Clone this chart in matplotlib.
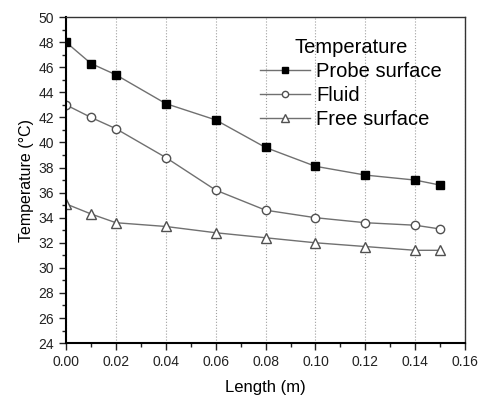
import matplotlib
matplotlib.use("Agg")
import matplotlib.pyplot as plt
from matplotlib.ticker import MultipleLocator, FormatStrFormatter

length_m = [0.00, 0.01, 0.02, 0.04, 0.06, 0.08, 0.10, 0.12, 0.14, 0.15]
probe_surface = [48.0, 46.3, 45.4, 43.1, 41.8, 39.6, 38.1, 37.4, 37.0, 36.6]
fluid = [43.0, 42.0, 41.1, 38.8, 36.2, 34.6, 34.0, 33.6, 33.4, 33.1]
free_surface = [35.1, 34.3, 33.6, 33.3, 32.8, 32.4, 32.0, 31.7, 31.4, 31.4]

plt.rcParams['font.family'] = ['Liberation Sans', 'DejaVu Sans']

fig = plt.figure(figsize=(4.82, 3.98), dpi=100)
ax = fig.add_axes([0.137, 0.138, 0.828, 0.819])

line_col = '#707070'
ax.plot(length_m, probe_surface, '-', color=line_col, lw=1.0, marker='s',
        ms=5.5, mfc='black', mec='black', label='Probe surface')
ax.plot(length_m, fluid, '-', color=line_col, lw=1.0, marker='o',
        ms=6, mfc='white', mec='#505050', mew=1.0, label='Fluid')
ax.plot(length_m, free_surface, '-', color=line_col, lw=1.0, marker='^',
        ms=7, mfc='white', mec='#505050', mew=1.0, label='Free surface')

ax.set_xlim(0, 0.16)
ax.set_ylim(24, 50)
ax.xaxis.set_major_locator(MultipleLocator(0.02))
ax.xaxis.set_minor_locator(MultipleLocator(0.01))
ax.yaxis.set_major_locator(MultipleLocator(2))
ax.yaxis.set_minor_locator(MultipleLocator(1))
ax.xaxis.set_major_formatter(FormatStrFormatter('%.2f'))

ax.grid(axis='x', which='major', linestyle=':', color='#a0a0a0', lw=0.8)
ax.tick_params(which='both', direction='out', top=False, right=False,
               labelsize=10, colors='#222222', width=1.0)
ax.tick_params(which='major', length=5)
ax.tick_params(which='minor', length=3)
for s in ax.spines.values():
    s.set_linewidth(1.0)
ax.spines['left'].set_linewidth(1.5)
ax.spines['bottom'].set_linewidth(1.5)
for s in ['top', 'right']:
    ax.spines[s].set_color('#333333')

ax.set_xlabel('Length (m)', fontsize=12, labelpad=8)
ax.set_ylabel('Temperature (°C)', fontsize=11.5, labelpad=3)

leg = ax.legend(title='Temperature', loc='upper left', frameon=False,
                fontsize=14.5, title_fontsize=14.5, markerscale=0.75,
                handlelength=2.5, handletextpad=0.3, labelspacing=0.25,
                borderpad=0.0, borderaxespad=0.0,
                bbox_to_anchor=(0.486, 0.935))

fig.savefig('out.png', dpi=100)
